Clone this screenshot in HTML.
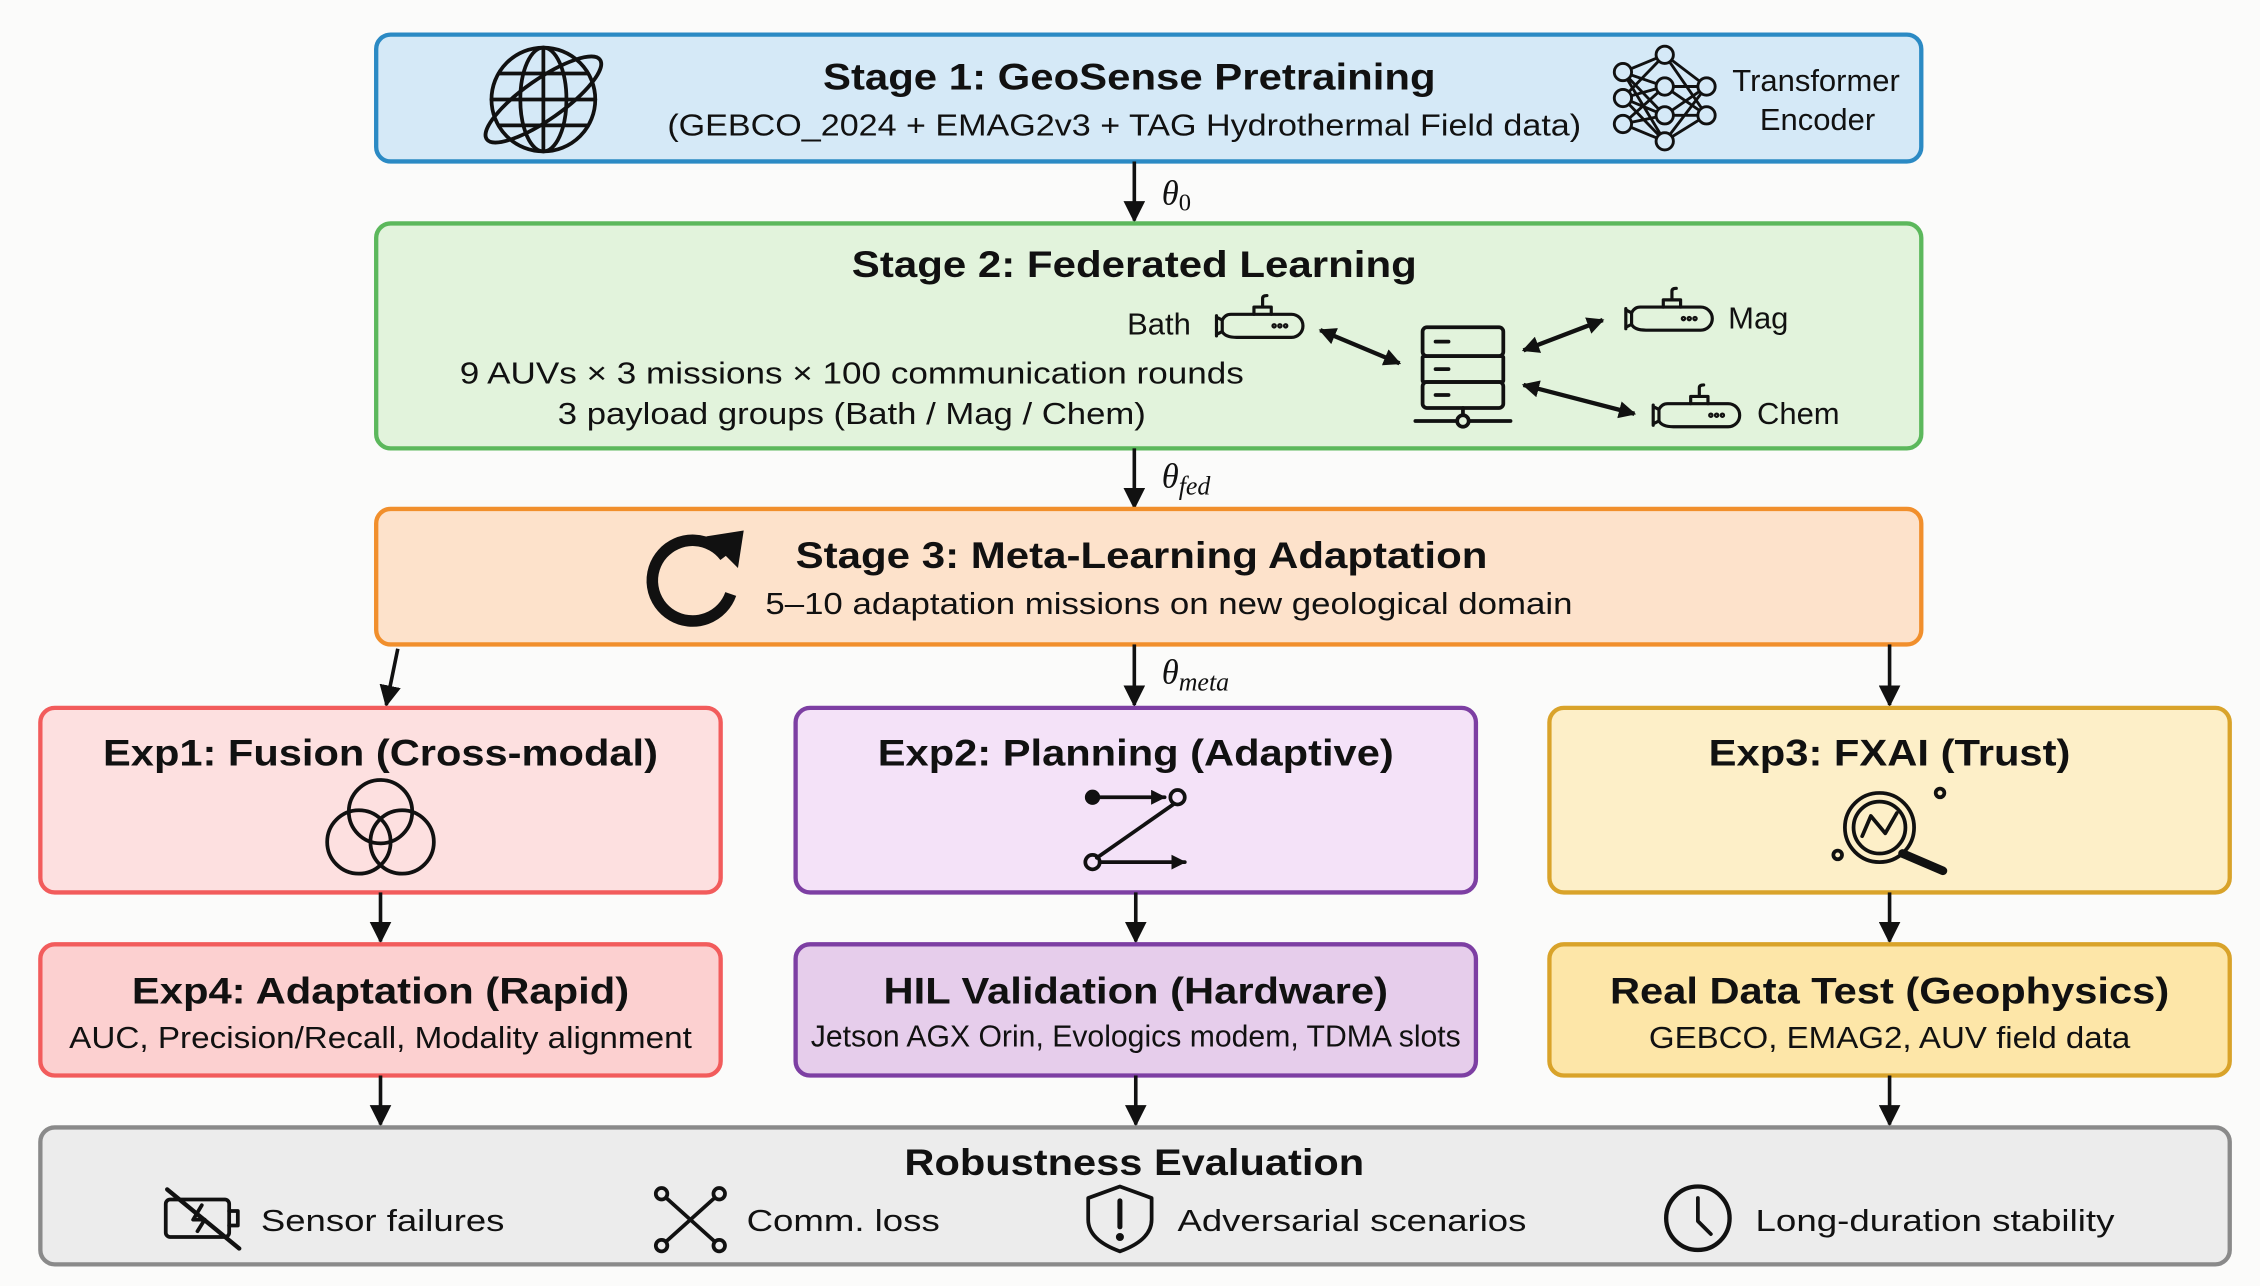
<!DOCTYPE html>
<html><head><meta charset="utf-8"><style>
html,body{margin:0;padding:0;background:#fbfbfa;}
svg{display:block;}
text{font-family:"Liberation Sans",sans-serif;fill:#111;}
.t{font-weight:bold;font-size:26px;}
.s{font-size:21.5px;}
.m{font-family:"Liberation Serif",serif;font-style:italic;font-size:24px;}
.ic{fill:none;stroke:#111;stroke-width:2.6;stroke-linecap:round;stroke-linejoin:round;}
</style></head><body>
<svg width="2260" height="1286" viewBox="0 0 1568 892" preserveAspectRatio="none" xmlns="http://www.w3.org/2000/svg">
<defs>
<marker id="ah" viewBox="0 0 10 10" refX="9" refY="5" markerWidth="6" markerHeight="6" orient="auto-start-reverse"><path d="M0,0 L10,5 L0,10 z" fill="#111"/></marker>
<marker id="sh" viewBox="0 0 10 10" refX="9" refY="5" markerWidth="4" markerHeight="4" orient="auto-start-reverse"><path d="M0,0 L10,5 L0,10 z" fill="#111"/></marker>
<g id="sub" class="ic" style="stroke-width:2.2">
 <path d="M10,8 H52 A8,8 0 0 1 52,24 H14 Q6,24 4,20 V12 Q6,8 10,8 z"/>
 <path d="M26,8 V3 H38 V8 M32,3 V-3 Q32,-5 35,-5"/>
 <path d="M4,12 L0,10 M4,20 L0,22 M0,9 V23"/>
 <circle cx="40" cy="16" r="0.8"/><circle cx="44" cy="16" r="0.8"/><circle cx="48" cy="16" r="0.8"/>
</g>
</defs>
<rect x="0" y="0" width="1568" height="892" fill="#fbfbfa"/>

<!-- Stage 1 -->
<rect x="261" y="24" width="1072" height="88" rx="10" fill="#d5e9f7" stroke="#2b8ac4" stroke-width="3"/>
<text class="t" x="783.5" y="62" text-anchor="middle" textLength="425" lengthAdjust="spacingAndGlyphs">Stage 1: GeoSense Pretraining</text>
<text class="s" x="780" y="94" text-anchor="middle" textLength="634" lengthAdjust="spacingAndGlyphs">(GEBCO_2024 + EMAG2v3 + TAG Hydrothermal Field data)</text>
<text class="s" x="1260" y="63" text-anchor="middle">Transformer</text>
<text class="s" x="1261" y="90" text-anchor="middle">Encoder</text>
<g class="ic">
 <circle cx="377" cy="69" r="36"/>
 <ellipse cx="377" cy="69" rx="16" ry="36"/>
 <path d="M341,69 H413 M346,51 H408 M346,87 H408 M377,33 V105"/>
 <ellipse cx="377" cy="69" rx="48" ry="14" transform="rotate(-35 377 69)"/>
</g>
<g class="ic" style="stroke-width:2">
 <path d="M1126,50 L1155,38 M1126,50 L1155,60 M1126,50 L1155,80 M1126,68 L1155,38 M1126,68 L1155,60 M1126,68 L1155,80 M1126,68 L1155,98 M1126,86 L1155,60 M1126,86 L1155,80 M1126,86 L1155,98 M1155,38 L1184,60 M1155,60 L1184,60 M1155,60 L1184,80 M1155,80 L1184,60 M1155,80 L1184,80 M1155,98 L1184,80 M1155,38 L1184,80 M1155,98 L1184,60 M1126,50 L1155,98"/>
 <g fill="#d5e9f7"><circle cx="1126" cy="50" r="6" fill="#d5e9f7"/><circle cx="1126" cy="68" r="6" fill="#d5e9f7"/><circle cx="1126" cy="86" r="6" fill="#d5e9f7"/><circle cx="1155" cy="38" r="6" fill="#d5e9f7"/><circle cx="1155" cy="60" r="6" fill="#d5e9f7"/><circle cx="1155" cy="80" r="6" fill="#d5e9f7"/><circle cx="1155" cy="98" r="6" fill="#d5e9f7"/><circle cx="1184" cy="60" r="6" fill="#d5e9f7"/><circle cx="1184" cy="80" r="6" fill="#d5e9f7"/></g>
</g>

<!-- arrow theta0 -->
<line x1="787" y1="112" x2="787" y2="153" stroke="#111" stroke-width="2.5" marker-end="url(#ah)"/>
<text class="m" x="806" y="142">θ<tspan font-size="17" dy="4" font-style="normal">0</tspan></text>

<!-- Stage 2 -->
<rect x="261" y="155" width="1072" height="156" rx="10" fill="#e2f3dc" stroke="#5cb85c" stroke-width="3"/>
<text class="t" x="787" y="192" text-anchor="middle" textLength="392" lengthAdjust="spacingAndGlyphs">Stage 2: Federated Learning</text>
<text class="s" x="591" y="266" text-anchor="middle" textLength="544" lengthAdjust="spacingAndGlyphs">9 AUVs × 3 missions × 100 communication rounds</text>
<text class="s" x="591" y="294" text-anchor="middle" textLength="408" lengthAdjust="spacingAndGlyphs">3 payload groups (Bath / Mag / Chem)</text>
<text class="s" x="782" y="232">Bath</text>
<text class="s" x="1199" y="228">Mag</text>
<text class="s" x="1219" y="294">Chem</text>
<use href="#sub" x="844" y="210"/>
<use href="#sub" x="1128" y="205"/>
<use href="#sub" x="1147" y="272"/>
<g class="ic">
 <rect x="987" y="227" width="56" height="20" rx="3"/>
 <rect x="987" y="247" width="56" height="18" rx="1"/>
 <rect x="987" y="265" width="56" height="18" rx="3"/>
 <path d="M996,237 H1005 M996,256 H1005 M996,274 H1005 M1015,283 V292 M982,292 H1048"/>
 <circle cx="1015" cy="292" r="4" fill="#e2f3dc"/>
</g>
<g stroke="#111" stroke-width="3" marker-start="url(#sh)" marker-end="url(#sh)">
 <line x1="916" y1="229" x2="971" y2="252"/>
 <line x1="1057" y1="243" x2="1112" y2="222"/>
 <line x1="1057" y1="267" x2="1134" y2="287"/>
</g>

<!-- arrow theta fed -->
<line x1="787" y1="311" x2="787" y2="352" stroke="#111" stroke-width="2.5" marker-end="url(#ah)"/>
<text class="m" x="806" y="338">θ<tspan font-size="18" dy="5">fed</tspan></text>

<!-- Stage 3 -->
<rect x="261" y="353" width="1072" height="94" rx="10" fill="#fde2cb" stroke="#f18f2c" stroke-width="3"/>
<text class="t" x="792" y="394" text-anchor="middle" textLength="480" lengthAdjust="spacingAndGlyphs">Stage 3: Meta-Learning Adaptation</text>
<text class="s" x="811" y="426" text-anchor="middle" textLength="560" lengthAdjust="spacingAndGlyphs">5–10 adaptation missions on new geological domain</text>
<path d="M503,386 A28,28 0 1 0 507,412" fill="none" stroke="#111" stroke-width="8"/>
<path d="M490,372 L516,368 L512,394 z" fill="#111"/>

<!-- arrows from stage3 -->
<g stroke="#111" stroke-width="2.5" marker-end="url(#ah)">
 <line x1="276" y1="450" x2="268" y2="489"/>
 <line x1="787" y1="447" x2="787" y2="489"/>
 <line x1="1311" y1="447" x2="1311" y2="489"/>
</g>
<text class="m" x="806" y="474">θ<tspan font-size="18" dy="5">meta</tspan></text>

<!-- Row 1 -->
<rect x="28" y="491" width="472" height="128" rx="10" fill="#fde0e0" stroke="#f25c5c" stroke-width="3"/>
<rect x="552" y="491" width="472" height="128" rx="10" fill="#f4e2f8" stroke="#7d3fa3" stroke-width="3"/>
<rect x="1075" y="491" width="472" height="128" rx="10" fill="#fdefc8" stroke="#d9a32a" stroke-width="3"/>
<text class="t" x="264" y="531" text-anchor="middle" textLength="385" lengthAdjust="spacingAndGlyphs">Exp1: Fusion (Cross-modal)</text>
<text class="t" x="788" y="531" text-anchor="middle" textLength="358" lengthAdjust="spacingAndGlyphs">Exp2: Planning (Adaptive)</text>
<text class="t" x="1311" y="531" text-anchor="middle" textLength="251" lengthAdjust="spacingAndGlyphs">Exp3: FXAI (Trust)</text>
<g class="ic">
 <circle cx="264" cy="563" r="22"/><circle cx="249" cy="584" r="22"/><circle cx="279" cy="584" r="22"/>
</g>
<g class="ic">
 <circle cx="758" cy="553" r="4" fill="#111"/>
 <line x1="762" y1="553" x2="808" y2="553" marker-end="url(#sh)"/>
 <circle cx="817" cy="553" r="5"/>
 <line x1="814" y1="558" x2="761" y2="595"/>
 <circle cx="758" cy="598" r="5"/>
 <line x1="763" y1="598" x2="822" y2="598" marker-end="url(#sh)"/>
</g>
<g class="ic">
 <circle cx="1304" cy="574" r="24"/><circle cx="1304" cy="574" r="18"/>
 <path d="M1320,592 L1348,604" stroke-width="6"/>
 <path d="M1292,580 L1298,566 L1308,578 L1316,564"/>
 <circle cx="1346" cy="550" r="3"/><circle cx="1275" cy="593" r="3"/>
</g>

<!-- arrows row1->row2 -->
<g stroke="#111" stroke-width="2.5" marker-end="url(#ah)">
 <line x1="264" y1="619" x2="264" y2="653"/>
 <line x1="788" y1="619" x2="788" y2="653"/>
 <line x1="1311" y1="619" x2="1311" y2="653"/>
</g>

<!-- Row 2 -->
<rect x="28" y="655" width="472" height="91" rx="10" fill="#fcd0d0" stroke="#f25c5c" stroke-width="3"/>
<rect x="552" y="655" width="472" height="91" rx="10" fill="#e6cdeb" stroke="#7d3fa3" stroke-width="3"/>
<rect x="1075" y="655" width="472" height="91" rx="10" fill="#fde6a8" stroke="#d9a32a" stroke-width="3"/>
<text class="t" x="264" y="696" text-anchor="middle" textLength="345" lengthAdjust="spacingAndGlyphs">Exp4: Adaptation (Rapid)</text>
<text class="t" x="788" y="696" text-anchor="middle" textLength="350" lengthAdjust="spacingAndGlyphs">HIL Validation (Hardware)</text>
<text class="t" x="1311" y="696" text-anchor="middle" textLength="388" lengthAdjust="spacingAndGlyphs">Real Data Test (Geophysics)</text>
<text class="s" x="264" y="727" text-anchor="middle" textLength="432" lengthAdjust="spacingAndGlyphs">AUC, Precision/Recall, Modality alignment</text>
<text class="s" x="788" y="726" text-anchor="middle" font-size="19" textLength="451" lengthAdjust="spacingAndGlyphs">Jetson AGX Orin, Evologics modem, TDMA slots</text>
<text class="s" x="1311" y="727" text-anchor="middle" textLength="334" lengthAdjust="spacingAndGlyphs">GEBCO, EMAG2, AUV field data</text>

<g stroke="#111" stroke-width="2.5" marker-end="url(#ah)">
 <line x1="264" y1="746" x2="264" y2="780"/>
 <line x1="788" y1="746" x2="788" y2="780"/>
 <line x1="1311" y1="746" x2="1311" y2="780"/>
</g>

<!-- Robustness -->
<rect x="28" y="782" width="1519" height="95" rx="10" fill="#ececec" stroke="#8a8a8a" stroke-width="3"/>
<text class="t" x="787" y="815" text-anchor="middle" textLength="319" lengthAdjust="spacingAndGlyphs">Robustness Evaluation</text>
<text class="s" x="181" y="854" font-size="23" textLength="169" lengthAdjust="spacingAndGlyphs">Sensor failures</text>
<text class="s" x="518" y="854" font-size="23" textLength="134" lengthAdjust="spacingAndGlyphs">Comm. loss</text>
<text class="s" x="817" y="854" font-size="23" textLength="242" lengthAdjust="spacingAndGlyphs">Adversarial scenarios</text>
<text class="s" x="1218" y="854" font-size="23" textLength="249" lengthAdjust="spacingAndGlyphs">Long-duration stability</text>
<g class="ic">
 <rect x="115" y="832" width="44" height="26" rx="3"/>
 <path d="M159,840 H165 V850 H159"/>
 <path d="M116,825 L166,866" stroke-width="3"/>
 <path d="M140,836 L134,846 H142 L137,854"/>
</g>
<g class="ic">
 <path d="M459,828 L499,864 M499,828 L459,864"/>
 <circle cx="459" cy="828" r="4" fill="#ececec"/><circle cx="499" cy="828" r="4" fill="#ececec"/><circle cx="459" cy="864" r="4" fill="#ececec"/><circle cx="499" cy="864" r="4" fill="#ececec"/>
</g>
<g class="ic">
 <path d="M777,823 L799,831 V846 Q799,860 777,868 Q755,860 755,846 V831 z"/>
 <path d="M777,833 V851" stroke-width="3.5"/><circle cx="777" cy="858" r="1.5" fill="#111"/>
</g>
<g class="ic">
 <circle cx="1178" cy="845" r="22" stroke-width="3"/>
 <path d="M1178,831 V847 L1187,856"/>
</g>
</svg>
</body></html>
